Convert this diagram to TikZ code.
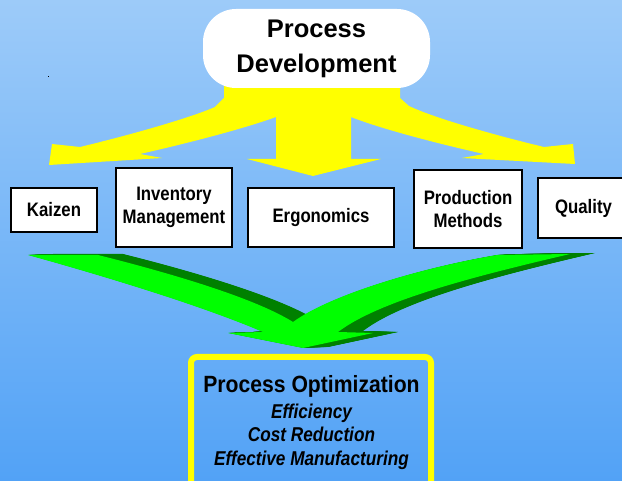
\documentclass[tikz,border=0pt]{standalone}
\usepackage{fontspec}
\setmainfont{Liberation Sans}
\newfontfamily\narrowfont[FakeStretch=0.86]{Liberation Sans}
\newfontfamily\optfont[FakeStretch=0.9]{Liberation Sans}
\definecolor{bgtop}{RGB}{157,203,249}
\definecolor{bgbot}{RGB}{82,162,246}
\definecolor{ylw}{RGB}{255,255,0}
\definecolor{lgreen}{RGB}{0,255,0}
\definecolor{dgreen}{RGB}{0,128,0}
\tikzset{
  itembox/.style={draw=black, line width=2pt, fill=white, align=center, inner sep=0pt,
    font=\narrowfont\bfseries\fontsize{19.5}{23.5}\selectfont},
  topbox/.style={fill=white, rounded corners=33pt, inner sep=0pt, align=center,
    font=\bfseries\fontsize{25.5}{35}\selectfont},
  optbox/.style={draw=ylw, line width=6pt, rounded corners=6pt, inner sep=0pt},
  opttitle/.style={anchor=base, inner sep=0pt, font=\optfont\bfseries\fontsize{23.5}{26}\selectfont},
  optline/.style={anchor=base, inner sep=0pt, font=\narrowfont\bfseries\itshape\fontsize{20}{23.5}\selectfont},
  pics/greenpair/.style={code={
    \fill[#1] (28,255) -- (98,255) .. controls (150,268) and (250,295) .. (293,322)
      .. controls (330,295) and (420,268) .. (497,255) -- (570,254)
      .. controls (480,275) and (380,300) .. (338,332)
      -- (373,333) -- (303,348) -- (228,333) -- (263,332)
      .. controls (200,305) and (100,275) .. (28,255) -- cycle;
  }}
}
\begin{document}
\begin{tikzpicture}[x=1pt,y=-1pt]
\useasboundingbox (0,0) rectangle (622,481);
\clip (0,0) rectangle (622,481);
\shade[top color=bgtop, bottom color=bgbot] (0,0) rectangle (622,481);
\fill[black] (47.5,76.5) rectangle (48.5,77.5);

% yellow splitting arrows
\fill[ylw] (224,80) -- (400,80) -- (400,98) -- (409,106)
  .. controls (434,118) and (494,135) .. (544,147) -- (573,144) -- (575,164)
  -- (462,158) -- (484,154) .. controls (444,145) and (384,130) .. (351,117)
  -- (351,159) -- (381,159) -- (313,176) -- (247,159) -- (276,159) -- (276,117)
  .. controls (240,130) and (180,145) .. (140,154) -- (162,158) -- (49,165)
  -- (52,144) -- (80,147) .. controls (130,135) and (190,118) .. (215,107)
  -- (224,98) -- cycle;

% green merging arrows with extruded shadow
\foreach \s in {1,...,25} {
  \pic at (\s,-\s/25) {greenpair=dgreen};
}
\pic at (0,0) {greenpair=lgreen};

% top box
\node[topbox, minimum width=227pt, minimum height=79pt] (dev) at (316.5,48.5) {Process\\Development};

% middle boxes
\node[itembox, minimum width=86pt, minimum height=44pt] (kaizen) at (54,210) {Kaizen};
\node[itembox, minimum width=116pt, minimum height=79pt] (inv) at (174,207.5) {Inventory\\Management};
\node[itembox, minimum width=146pt, minimum height=59pt] (ergo) at (321,217.5) {Ergonomics};
\node[itembox, minimum width=108pt, minimum height=78pt] (prod) at (468,209) {Production\\Methods};
\node[itembox, minimum width=91pt, minimum height=60pt, text width=86pt] (qual) at (583.5,208) {Quality};

% bottom box
\node[optbox, minimum width=240pt, minimum height=138pt] (opt) at (311,426) {};
\node[opttitle] (optt) at (311.5,393) {Process Optimization};
\node[optline] (eff) at (311.5,419) {Efficiency};
\node[optline] (cost) at (311.5,442) {Cost Reduction};
\node[optline] (manu) at (311.5,465) {Effective Manufacturing};
\end{tikzpicture}
\end{document}
